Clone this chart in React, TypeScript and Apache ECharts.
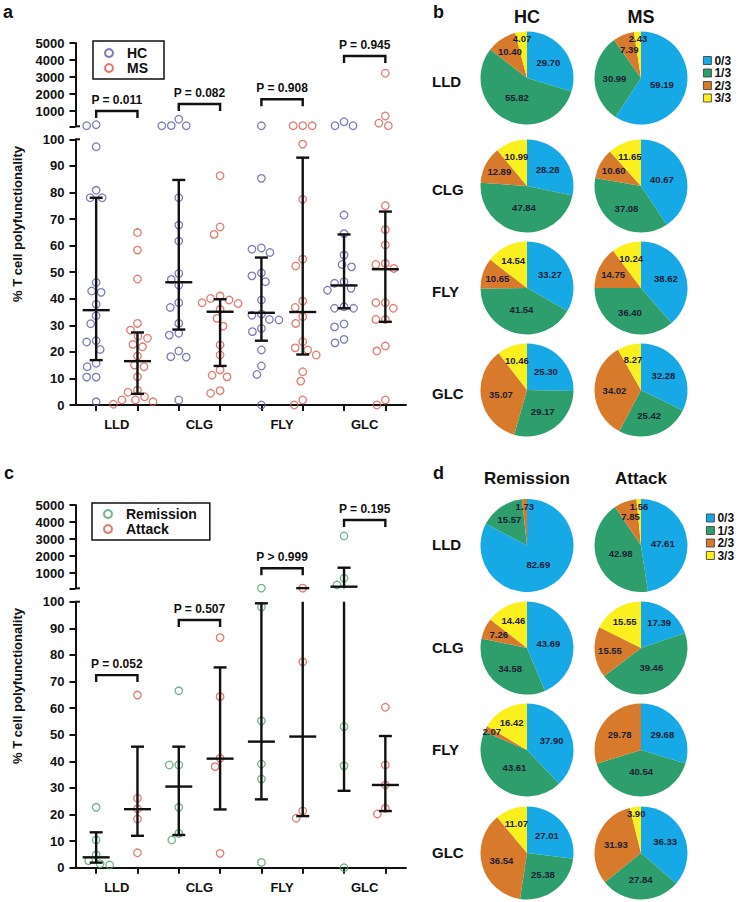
import React, { useEffect, useRef } from 'react';
import * as echarts from 'echarts';

// ---------------- DATA ----------------
const categories = ['LLD', 'CLG', 'FLY', 'GLC'];

// Panel a: HC vs MS, individual values per category
const hcLLD = [135, 194, 97.2, 80.8, 78, 78, 46.1, 42.4, 42.9, 37.9, 33.6, 30.6, 23.7, 24.2, 20.9, 14.4, 15.7, 10.5, 10.5, 1.2];
const hcCLG = [130, 140, 512, 135, 78, 67.7, 61.7, 49.5, 47.3, 45.1, 36.7, 38.5, 30.7, 26.3, 27, 18.2, 18, 20.3, 1.9];
const hcFLY = [130, 85.3, 58.6, 57.4, 59.1, 49.7, 48.6, 46.4, 39.5, 34.2, 33.8, 32, 32.2, 28.8, 27.6, 20.7, 14.7, 11.5, 0];
const hcGLC = [370, 135, 135, 71.5, 64.5, 56.4, 52.9, 52, 46.4, 45.8, 43.9, 43.2, 37, 36.4, 36.4, 30.5, 29.4, 23.4, 24.7];
const msLLD = [64.9, 58.3, 47.4, 30.7, 28.2, 25.9, 25.1, 22.8, 21.9, 18.4, 15, 14.4, 10.6, 5.6, 4.8, 3.1, 1.9, 1.2, 1.9, 0.3];
const msCLG = [86.3, 67, 64.2, 40.1, 39.5, 41, 38.5, 38.2, 36, 32.6, 29.7, 22.6, 18.8, 13.2, 11.2, 10.6, 4.4, 5.4];
const msFLY = [130, 135, 140, 98.2, 77.4, 52.3, 54.9, 39.1, 36.7, 33.2, 30.7, 23.8, 21.5, 20.7, 18.8, 12.5, 9, 0, 1.9];
const msGLC = [3218, 706, 135, 280, 75, 66, 60.2, 52.9, 53.3, 51.4, 38.5, 38.5, 36.4, 32.2, 32.2, 22.2, 20.3, 0, 1.9];
// [median, lower, upper]
const hcBars = [[35.7, 16.9, 78], [46.2, 28.4, 84.7], [34.7, 24.2, 55.5], [45, 36.4, 64.2]];
const msBars = [[16.5, 4.2, 27.3], [35.1, 14.7, 39.8], [35, 19, 93.1], [51.1, 31.3, 72.8]];
const pLabelsA = ['P = 0.011', 'P = 0.082', 'P = 0.908', 'P = 0.945'];
const pLevelsA = [1000, 1412, 1688, 4235];

// Panel c: Remission vs Attack
const remLLD = [22.7, 10.4, 4.8, 2.6, 1.5, 1.0];
const remCLG = [66.5, 38.6, 38.6, 22.7, 12.9, 10.4];
const remFLY = [110, 98, 55.2, 39, 33.3, 2];
const remGLC = [3175, 688, 294, 53, 38.3, 0];
const attLLD = [64.9, 26.1, 22.1, 18.3, 5.6];
const attCLG = [86.5, 64.3, 41.1, 38, 5.4];
const attFLY = [110, 77.4, 21.3, 18.6];
const attGLC = [60.3, 38.6, 31.1, 20.2, 22.3];
const remBars = [[3.9, 1.9, 13.3], [30.5, 12.3, 45.5], [47.4, 25.7, 99.4], [194, 28.9, 1311]];
const attBars = [[22, 12, 45.5], [41, 21.9, 75.3], [49.3, 19.4, 110], [31.1, 21.3, 49.5]];
const pLabelsC = ['P = 0.052', 'P = 0.507', 'P > 0.999', 'P = 0.195'];
const pLevelsC = [72.4, 93.1, 1276, 4116];

// Pies (percent of cells with 0/3 .. 3/3 functions)
const pieClasses = ['0/3', '1/3', '2/3', '3/3'];
const hcPies = [[29.70, 55.82, 10.40, 4.07], [28.28, 47.84, 12.89, 10.99], [33.27, 41.54, 10.65, 14.54], [25.30, 29.17, 35.07, 10.46]];
const msPies = [[59.19, 30.99, 7.39, 2.43], [40.67, 37.08, 10.60, 11.65], [38.62, 36.40, 14.75, 10.24], [32.28, 25.42, 34.02, 8.27]];
const remPies = [[82.69, 15.57, 1.73, 0], [43.69, 34.58, 7.26, 14.46], [37.90, 43.61, 2.07, 16.42], [27.01, 25.38, 36.54, 11.07]];
const attPies = [[47.61, 42.98, 7.85, 1.56], [17.39, 39.46, 15.55, 15.55], [29.68, 40.54, 29.78, 0], [36.33, 27.84, 31.93, 3.90]];

// ---------------- STYLE / LAYOUT ----------------
const FONT = 'Arial, "Liberation Sans", Helvetica, sans-serif';
const BLUE = '#5A5CA8';
const RED = '#D95A4F';
const GREEN = '#4DA36B';
const INK = '#111111';
const PIE_COLORS = ['#16A9E6', '#2F9E6D', '#D77A2B', '#FCEF1E'];
const PIE_R = 46.5;
const PIE_X = [527, 641];
const PIE_Y_B = [78, 186, 288, 390];
const PIE_Y_D = [545.5, 648, 750, 853];

const GRIDS = [
  { left: 75.5, top: 43, width: 330.5, height: 83.3 },
  { left: 75.5, top: 139.3, width: 330.5, height: 265.7 },
  { left: 75.5, top: 505, width: 330.5, height: 83.3 },
  { left: 75.5, top: 601.7, width: 330.5, height: 266 },
];

function pxY(v: number) {
  return v <= 100 ? v * 2.66 : 279 + (v - 100) * 0.017;
}

function swarmOffsets(vals: number[]): number[] {
  const order = vals.map((_, i) => i).sort((a, b) => vals[b] - vals[a]);
  const placed: { x: number; y: number }[] = [];
  const out = new Array(vals.length).fill(0);
  const D = 9.5;
  for (const i of order) {
    const y = pxY(vals[i]);
    const near = placed.filter((p) => Math.abs(p.y - y) < D);
    const lc = near.filter((p) => p.x < 0).length;
    const rc = near.filter((p) => p.x > 0).length;
    let chosen = 0;
    outer: for (let s = 0; s <= 40; s += 0.5) {
      const cands = s === 0 ? [0] : lc <= rc ? [-s, s] : [s, -s];
      for (const c of cands) {
        if (placed.every((p) => (p.x - c) ** 2 + (p.y - y) ** 2 >= D * D)) {
          chosen = c;
          break outer;
        }
      }
    }
    placed.push({ x: chosen, y });
    out[i] = chosen / 41.3;
  }
  return out;
}

function scatterSeries(name: string, color: string, groups: number[][], side: number, axis: number, upper: boolean) {
  const data: number[][] = [];
  groups.forEach((vals, j) => {
    const off = swarmOffsets(vals);
    vals.forEach((v, i) => {
      if ((v > 100) === upper) data.push([2 * j + 0.5 + side + off[i], v]);
    });
  });
  return {
    type: 'scatter', name, xAxisIndex: axis, yAxisIndex: axis, data, clip: false, silent: true,
    symbol: 'circle', symbolSize: 7.5, z: 3,
    itemStyle: { color: 'rgba(255,255,255,0)', borderColor: color, borderWidth: 1.3 },
  };
}

function errSeries(bars: number[][], side: number, axis: number, lo: number, hi: number) {
  return {
    type: 'custom', xAxisIndex: axis, yAxisIndex: axis, silent: true, z: 4, clip: false,
    data: bars.map((b, j) => [2 * j + 0.5 + side, b[0], b[1], b[2]]),
    encode: { x: 0, y: 1 },
    renderItem: (params: any, api: any) => {
      const x = api.value(0), med = api.value(1), l = api.value(2), h = api.value(3);
      const style = { stroke: INK, lineWidth: 2.4 };
      const children: any[] = [];
      const a = Math.max(l, lo), b = Math.min(h, hi);
      if (a < b) {
        const p1 = api.coord([x, a]), p2 = api.coord([x, b]);
        children.push({ type: 'line', shape: { x1: p1[0], y1: p1[1], x2: p2[0], y2: p2[1] }, style });
      }
      const marks: [number, number][] = [[l, 6.5], [h, 6.5], [med, 13.5]];
      for (const [v, w] of marks) {
        if (v >= lo && v <= hi) {
          const p = api.coord([x, v]);
          children.push({ type: 'line', shape: { x1: p[0] - w, y1: p[1], x2: p[0] + w, y2: p[1] }, style });
        }
      }
      return { type: 'group', children };
    },
  };
}

function bracketSeries(labels: string[], levels: number[], axis: number, upper: boolean) {
  return {
    type: 'custom', xAxisIndex: axis, yAxisIndex: axis, silent: true, z: 5, clip: false,
    data: levels.map((lv, j) => [j, lv]).filter((d) => (d[1] > 100) === upper),
    encode: { x: 0, y: 1 },
    renderItem: (params: any, api: any) => {
      const j = api.value(0), lv = api.value(1);
      const p1 = api.coord([2 * j + 0.5, lv]);
      const p2 = api.coord([2 * j + 1.5, lv]);
      return {
        type: 'group',
        children: [
          {
            type: 'polyline',
            shape: { points: [[p1[0], p1[1] + 7], [p1[0], p1[1]], [p2[0], p2[1]], [p2[0], p2[1] + 7]] },
            style: { stroke: INK, lineWidth: 2.4, fill: 'none' },
          },
          {
            type: 'text',
            style: {
              text: labels[j], x: (p1[0] + p2[0]) / 2, y: p1[1] - 5, align: 'center', verticalAlign: 'bottom',
              fontSize: 12, fontWeight: 'bold', fontFamily: FONT, fill: INK,
            },
          },
        ],
      };
    },
  };
}

function pieSeries(values: number[], cx: number, cy: number) {
  const sum = values.reduce((a, b) => a + b, 0);
  let cum = 0;
  const mids = values.map((v) => {
    const m = (cum + v / 2) / sum;
    cum += v;
    return m;
  });
  return {
    type: 'pie', center: [cx, cy], radius: PIE_R, startAngle: 90, clockwise: true, silent: true,
    avoidLabelOverlap: false, legendHoverLink: false, emphasis: { disabled: true },
    data: values.map((v, i) => ({ name: pieClasses[i], value: v, itemStyle: { color: PIE_COLORS[i] } })),
    label: {
      show: true, position: 'inside', fontSize: 9.5, fontWeight: 'bold', color: '#1b2036', fontFamily: FONT,
      formatter: (p: any) => (p.value > 0 ? Number(p.value).toFixed(2) : ''),
    },
    labelLine: { show: false },
    labelLayout: (p: any) => {
      const i = p.dataIndex;
      const sh = values[i] / sum;
      const fr = sh >= 0.4 ? 0.47 : sh >= 0.2 ? 0.57 : sh >= 0.05 ? 0.67 : 0.85;
      const ang = mids[i] * 2 * Math.PI;
      return { x: cx + Math.sin(ang) * fr * PIE_R, y: cy - Math.cos(ang) * fr * PIE_R, align: 'center', verticalAlign: 'middle' };
    },
  };
}

function txt(text: string, x: number, y: number, size: number, align = 'left', extra: any = {}) {
  return {
    type: 'text', x, y, silent: true, ...extra,
    style: {
      text, fontSize: size, fontWeight: 'bold', fontFamily: FONT, fill: INK,
      align, textAlign: align, verticalAlign: 'middle', textVerticalAlign: 'middle',
    },
  };
}

function hline(x1: number, x2: number, y: number) {
  return { type: 'line', silent: true, shape: { x1, y1: y, x2, y2: y }, style: { stroke: INK, lineWidth: 2 } };
}

export default function App() {
  const ref = useRef<HTMLDivElement>(null);
  useEffect(() => {
    if (!ref.current) return;
    const chart = echarts.init(ref.current, undefined, { renderer: 'svg' });

    const axisText = { fontSize: 13, fontWeight: 'bold', color: INK, fontFamily: FONT };
    const lineStyle = { color: INK, width: 2 };
    const xAxes = GRIDS.map((g, i) => {
      const lower = i % 2 === 1;
      return {
        type: 'value', gridIndex: i, min: 0, max: 8, show: lower,
        axisLine: { show: lower, onZero: false, lineStyle },
        axisTick: { show: lower, length: 6, lineStyle, customValues: [0.5, 1.5, 2.5, 3.5, 4.5, 5.5, 6.5, 7.5] },
        axisLabel: {
          show: lower, ...axisText, margin: 13, customValues: [1, 3, 5, 7],
          formatter: (v: number) => categories[Math.round((v - 1) / 2)] || '',
        },
        splitLine: { show: false },
      };
    });
    const yAxes = GRIDS.map((g, i) => {
      const lower = i % 2 === 1;
      if (lower) {
        return {
          type: 'value', gridIndex: i, min: 0, max: 100, interval: 10,
          axisLine: { show: true, lineStyle }, axisTick: { show: true, length: 6, lineStyle },
          axisLabel: { ...axisText, margin: 11, formatter: (v: number) => String(v) }, splitLine: { show: false },
        };
      }
      return {
        type: 'value', gridIndex: i, min: 100, max: 5000,
        axisLine: { show: true, lineStyle },
        axisTick: { show: true, length: 6, lineStyle, customValues: [100, 1000, 2000, 3000, 4000, 5000] },
        axisLabel: { ...axisText, margin: 11, customValues: [1000, 2000, 3000, 4000, 5000], formatter: (v: number) => String(v) },
        splitLine: { show: false },
      };
    });

    const hcGroups = [hcLLD, hcCLG, hcFLY, hcGLC];
    const msGroups = [msLLD, msCLG, msFLY, msGLC];
    const remGroups = [remLLD, remCLG, remFLY, remGLC];
    const attGroups = [attLLD, attCLG, attFLY, attGLC];

    const series: any[] = [
      scatterSeries('HC', BLUE, hcGroups, 0, 0, true),
      scatterSeries('HC', BLUE, hcGroups, 0, 1, false),
      scatterSeries('MS', RED, msGroups, 1, 0, true),
      scatterSeries('MS', RED, msGroups, 1, 1, false),
      errSeries(hcBars, 0, 0, 100, 5000),
      errSeries(hcBars, 0, 1, 0, 100),
      errSeries(msBars, 1, 0, 100, 5000),
      errSeries(msBars, 1, 1, 0, 100),
      bracketSeries(pLabelsA, pLevelsA, 0, true),
      bracketSeries(pLabelsA, pLevelsA, 1, false),
      scatterSeries('Remission', GREEN, remGroups, 0, 2, true),
      scatterSeries('Remission', GREEN, remGroups, 0, 3, false),
      scatterSeries('Attack', RED, attGroups, 1, 2, true),
      scatterSeries('Attack', RED, attGroups, 1, 3, false),
      errSeries(remBars, 0, 2, 100, 5000),
      errSeries(remBars, 0, 3, 0, 100),
      errSeries(attBars, 1, 2, 100, 5000),
      errSeries(attBars, 1, 3, 0, 100),
      bracketSeries(pLabelsC, pLevelsC, 2, true),
      bracketSeries(pLabelsC, pLevelsC, 3, false),
    ];
    for (let r = 0; r < 4; r++) {
      series.push(pieSeries(hcPies[r], PIE_X[0], PIE_Y_B[r]));
      series.push(pieSeries(msPies[r], PIE_X[1], PIE_Y_B[r]));
      series.push(pieSeries(remPies[r], PIE_X[0], PIE_Y_D[r]));
      series.push(pieSeries(attPies[r], PIE_X[1], PIE_Y_D[r]));
    }

    const scatterLegend = (names: string[], left: number, top: number, pad: number[]) => ({
      data: names, orient: 'vertical', left, top, padding: pad, itemGap: 1, itemWidth: 8, itemHeight: 8,
      icon: 'circle', borderColor: INK, borderWidth: 1.5, selectedMode: false,
      textStyle: { fontSize: 14, fontWeight: 'bold', color: INK, fontFamily: FONT, lineHeight: 14, padding: [0, 0, 0, 9] },
    });
    const pieLegend = (left: number, top: number) => ({
      data: pieClasses, orient: 'vertical', left, top, padding: 0, itemGap: 0.5, itemWidth: 8, itemHeight: 8,
      icon: 'rect', selectedMode: false, itemStyle: { borderColor: '#333', borderWidth: 0.8 },
      textStyle: { fontSize: 12, fontWeight: 'bold', color: INK, fontFamily: FONT, lineHeight: 12, padding: [0, 0, 0, -2] },
    });

    const graphic: any[] = [
      txt('a', 3, 12, 18), txt('b', 433, 12, 18), txt('c', 4, 473, 18), txt('d', 433, 473, 18),
      txt('HC', PIE_X[0], 16.5, 18, 'center'), txt('MS', PIE_X[1], 16.5, 18, 'center'),
      txt('Remission', PIE_X[0], 478.5, 17, 'center'), txt('Attack', PIE_X[1], 478.5, 17, 'center'),
      txt('% T cell polyfunctionality', 17, 224, 13, 'center', { rotation: Math.PI / 2 }),
      txt('% T cell polyfunctionality', 17, 686, 13, 'center', { rotation: Math.PI / 2 }),
      hline(75.5, 80, GRIDS[0].top + GRIDS[0].height),
      hline(75.5, 80, GRIDS[1].top),
      hline(75.5, 80, GRIDS[2].top + GRIDS[2].height),
      hline(75.5, 80, GRIDS[3].top),
    ];
    categories.forEach((c, r) => {
      graphic.push(txt(c, 432, PIE_Y_B[r] + 3, 15));
      graphic.push(txt(c, 432, PIE_Y_D[r] - 1, 15));
    });

    chart.setOption({
      animation: false,
      backgroundColor: '#ffffff',
      textStyle: { fontFamily: FONT },
      grid: GRIDS.map((g) => ({ ...g, containLabel: false })),
      xAxis: xAxes,
      yAxis: yAxes,
      legend: [
        scatterLegend(['HC', 'MS'], 93, 41, [5, 16, 4, 11]),
        scatterLegend(['Remission', 'Attack'], 92, 503, [4, 13, 4, 11]),
        pieLegend(703, 54.5),
        pieLegend(706, 512),
      ],
      series,
      graphic,
    });
    return () => chart.dispose();
  }, []);
  return <div ref={ref} style={{ position: 'absolute', left: 0, top: 0, width: 739, height: 902, background: '#fff' }} />;
}
